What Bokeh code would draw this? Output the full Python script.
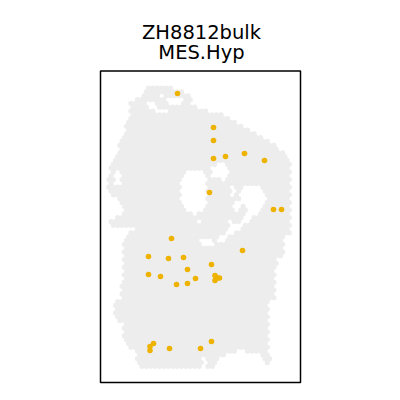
import numpy as np
from bokeh.plotting import figure
from bokeh.models import Range1d, Label
from bokeh.embed import file_html
from bokeh.resources import INLINE

# ---- data (image-pixel-like spatial coordinates) ----
title_lines = ["ZH8812bulk", "MES.Hyp"]

tissue_outline_x = [130, 135, 140, 143, 150, 158, 167, 172, 180, 187, 192, 192, 200, 210, 220, 233, 243, 257, 270, 280,
                    287, 290, 290, 283, 283, 277, 277, 274, 274, 267, 267, 268, 268, 270, 267, 263, 257, 240, 227, 220,
                    215, 207, 206, 203, 202, 143, 135, 135, 131, 126, 123, 123, 119, 115, 115, 121, 122, 122, 131, 138,
                    125, 112, 110, 112, 122, 122, 122, 118, 110, 108, 108, 110, 113, 117, 122, 125, 128, 130]
tissue_outline_y = [102, 98, 95, 88, 85, 85, 86, 88, 90, 93, 97, 103, 108, 112, 113, 120, 127, 133, 142, 149,
                    157, 167, 233, 235, 257, 258, 268, 270, 298, 302, 318, 320, 353, 358, 363, 360, 353, 350, 353, 358,
                    365, 367, 356, 356, 367, 367, 362, 353, 348, 343, 333, 323, 321, 315, 302, 297, 270, 240, 231, 225,
                    226, 226, 222, 218, 213, 213, 203, 198, 196, 190, 175, 170, 157, 150, 137, 127, 117, 107]

holes_x = [
    [147, 153, 159, 158, 148],
    [165, 174, 183, 182, 166],
    [153, 160, 168, 166, 154],
    [157, 163, 163, 157],
    [210, 222, 228, 224, 212],
    [188, 198, 204, 207, 207, 203, 196, 190, 184, 180, 180, 184],
    [243, 248, 257, 263, 265, 262, 255, 245, 235, 225, 218, 215, 221, 232, 243, 248, 245, 240, 238],
    [232, 240, 242, 238, 232],
    [230, 235, 235, 230],
    [197, 205, 213, 212, 200],
    [115, 121, 121, 115],
    [197, 200, 200, 197],
    [228, 232, 232, 228],
]
holes_y = [
    [102, 101, 104, 108, 107],
    [98, 97, 98, 103, 103],
    [108, 107, 109, 114, 114],
    [93, 93, 97, 97],
    [165, 162, 172, 180, 178],
    [168, 168, 175, 183, 203, 210, 214, 213, 207, 200, 185, 175],
    [188, 183, 183, 190, 200, 208, 216, 224, 232, 239, 243, 240, 234, 226, 218, 210, 204, 200, 194],
    [200, 199, 207, 213, 212],
    [185, 185, 195, 195],
    [240, 238, 239, 244, 245],
    [170, 170, 183, 183],
    [215, 215, 222, 222],
    [220, 220, 227, 227],
]

hit_x = [177, 213, 213, 213, 225, 244, 264, 209, 273, 281, 171, 242, 148, 168, 183, 211, 187,
         148, 160, 195, 214.5, 217, 219, 214.5, 176, 187, 211, 153, 149.5, 149.5, 169, 200]
hit_y = [93, 127, 140, 158, 156, 153, 160, 192, 209, 209, 238, 250, 256, 258, 257, 264, 269,
         274, 276, 278, 275, 277.5, 277.5, 280, 284, 283, 341, 343, 346, 350, 348, 348]

SPOT_PITCH = 4.4
GRAY = "#EDEDED"
YELLOW = "#EEB200"


def inside(px, py, xs, ys):
    xs = np.asarray(xs, float)
    ys = np.asarray(ys, float)
    res = np.zeros(px.shape, bool)
    n = len(xs)
    j = n - 1
    for i in range(n):
        xi, yi, xj, yj = xs[i], ys[i], xs[j], ys[j]
        cond = ((yi > py) != (yj > py))
        with np.errstate(divide="ignore", invalid="ignore"):
            xint = (xj - xi) * (py - yi) / (yj - yi + 1e-12) + xi
        res ^= cond & (px < xint)
        j = i
    return res


# hexagonal spot lattice clipped to tissue outline
dy = SPOT_PITCH * np.sqrt(3) / 2
rows = np.arange(80, 372, dy)
gx, gy = [], []
for k, yy in enumerate(rows):
    off = (SPOT_PITCH / 2) if k % 2 else 0.0
    xx = np.arange(104 + off, 296, SPOT_PITCH)
    gx.append(xx)
    gy.append(np.full_like(xx, yy))
gx = np.concatenate(gx)
gy = np.concatenate(gy)
mask = inside(gx, gy, tissue_outline_x, tissue_outline_y)
for hx, hy in zip(holes_x, holes_y):
    mask &= ~inside(gx, gy, hx, hy)
tx, ty = gx[mask], gy[mask]

# whole canvas is the frame; panel box drawn explicitly
p = figure(width=400, height=400, output_backend="svg", toolbar_location=None,
           x_range=Range1d(0, 400), y_range=Range1d(400, 0),
           min_border=0, min_border_left=0, min_border_right=0, min_border_top=0, min_border_bottom=0)
p.axis.visible = False
p.grid.visible = False
p.outline_line_color = None
p.background_fill_color = "white"
p.border_fill_color = "white"

p.circle(tx, ty, radius=2.6, fill_color=GRAY, line_color=None)
p.circle(hit_x, hit_y, radius=2.8, fill_color=YELLOW, line_color=None)
p.quad(left=100, right=300, top=70.5, bottom=382, fill_color=None, line_color="black", line_width=1.5)

p.title = None
for txt, yy in zip(title_lines, [31.7, 52.3]):
    p.add_layout(Label(x=201, y=yy, text=txt, text_align="center", text_baseline="alphabetic",
                       text_font="DejaVu Sans", text_font_size="19.5px", text_color="black"))

open("out.html", "w").write(file_html(p, INLINE))
